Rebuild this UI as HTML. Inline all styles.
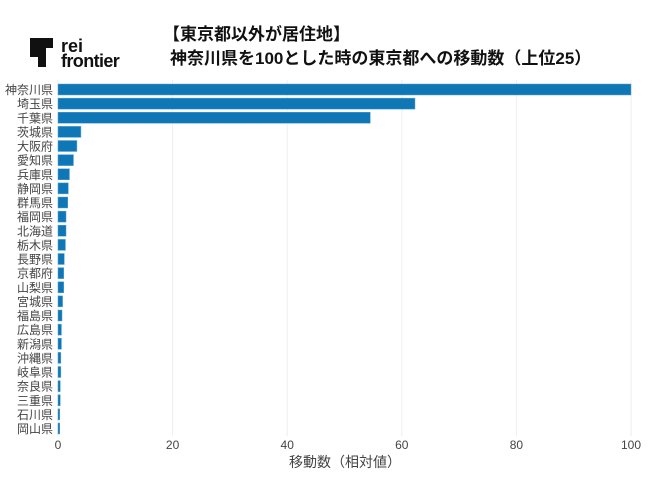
<!DOCTYPE html>
<html><head><meta charset="utf-8"><style>
body{margin:0;background:#fff;width:650px;height:472px;overflow:hidden;font-family:"Liberation Sans","Noto Sans CJK JP",sans-serif;}
</style></head><body>
<svg id="c" width="650" height="472" xmlns="http://www.w3.org/2000/svg">
<g>
<path d="M30 38 H53 V48 H46 V67 H38 V57 H30 Z" fill="#111"/>
<text x="61" y="52" font-size="18" font-weight="bold" fill="#111">rei</text>
<text x="61" y="67" font-size="18" font-weight="bold" fill="#111" letter-spacing="-0.6">frontier</text>
</g>
<text x="163" y="40" font-size="17" font-weight="bold" fill="#111">【東京都以外が居住地】</text>
<text x="170" y="64" font-size="17" font-weight="bold" fill="#111">神奈川県を100とした時の東京都への移動数（上位25）</text>
<g id="grid"></g><g id="bars"></g><g id="ylab"></g><g id="xt"></g>
<text x="345" y="467" font-size="14" fill="#444" text-anchor="middle">移動数（相対値）</text>
</svg>
<script>
const categories=["神奈川県","埼玉県","千葉県","茨城県","大阪府","愛知県","兵庫県","静岡県","群馬県","福岡県","北海道","栃木県","長野県","京都府","山梨県","宮城県","福島県","広島県","新潟県","沖縄県","岐阜県","奈良県","三重県","石川県","岡山県"];
const values=[100,62.3,54.5,4.0,3.3,2.7,2.0,1.8,1.7,1.4,1.4,1.3,1.1,1.0,1.0,0.8,0.7,0.6,0.6,0.5,0.5,0.4,0.4,0.3,0.3];
const ticks=[0,20,40,60,80,100];
const NS="http://www.w3.org/2000/svg";
const x=v=>58+v*5.73, y=i=>89.5+i*14.125;
function mk(t,a,p){const e=document.createElementNS(NS,t);for(const k in a)e.setAttribute(k,a[k]);p.appendChild(e);return e;}
const g=document.getElementById('grid'),b=document.getElementById('bars'),yl=document.getElementById('ylab'),xt=document.getElementById('xt');
ticks.forEach(t=>{
 const l=mk('line',{x1:x(t),x2:x(t),y1:80,y2:436,stroke:'#eee'},g);
 
 
 const tx=mk('text',{x:x(t),y:449,'font-size':12,fill:'#444','text-anchor':'middle'},xt);tx.textContent=t;
 
 
});
categories.forEach((c,i)=>{
 const r=mk('rect',{x:x(0),y:y(i)-5.5,width:Math.max(x(values[i])-x(0),1),height:11,fill:'#0f77b5',stroke:'#5aa6d6','stroke-width':0.5},b);
 
 
 const t=mk('text',{x:53,y:y(i)+4.5,'font-size':12,fill:'#444','text-anchor':'end'},yl);t.textContent=c;
 
 
});
</script>
</body></html>
